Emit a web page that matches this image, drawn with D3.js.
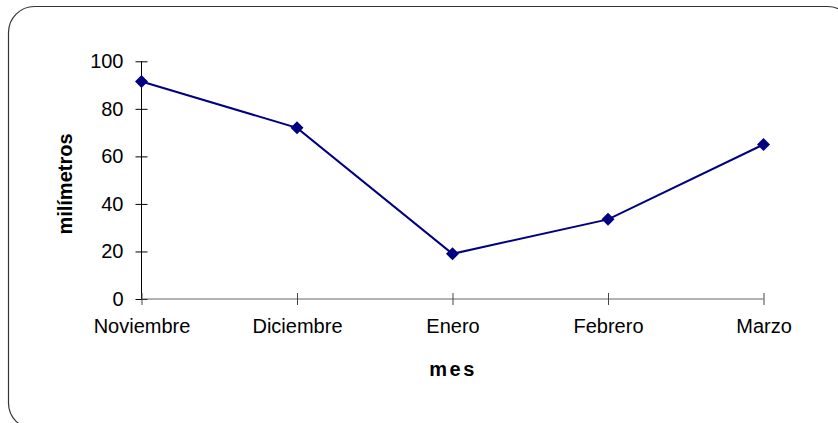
<!DOCTYPE html>
<html><head><meta charset="utf-8">
<script src="https://cdn.jsdelivr.net/npm/d3@7"></script>
<style>body{margin:0;background:#fff;}svg{display:block;font-family:"Liberation Sans",Arial,sans-serif;}</style>
</head><body><svg id="c" width="838" height="423"></svg>
<script>
const categories = ["Noviembre","Diciembre","Enero","Febrero","Marzo"];
const values = [91.5, 72, 19, 33.5, 65];
const yTicks = [0,20,40,60,80,100];
const xTitle = "mes";
const yTitle = "milímetros";

const svg = d3.select("#c");
svg.append("rect").attr("x",8.5).attr("y",6.5).attr("width",845).attr("height",422.5)
  .attr("rx",26).attr("ry",26).attr("fill","none").attr("stroke","#333").attr("stroke-width",1.2);

const x = d3.scalePoint().domain(categories).range([141.5,763.5]);
const y = d3.scaleLinear().domain([0,100]).range([299,61.3]);

// y axis
const ya = svg.append("g").attr("transform","translate(141.5,0)")
  .call(d3.axisLeft(y).tickValues(yTicks).tickSize(6).tickPadding(12));
ya.select(".domain").attr("stroke","#000").attr("d","M0,"+y(100)+"V"+y(0));
ya.selectAll(".tick line").attr("x1",6).attr("x2",-6).attr("stroke","#000");
ya.selectAll("text").attr("font-size",20).attr("fill","#000").attr("font-family","Liberation Sans, Arial, sans-serif");

// x axis
const xa = svg.append("g").attr("transform","translate(0,299)")
  .call(d3.axisBottom(x).tickSize(6).tickPadding(14));
xa.select(".domain").attr("stroke","#666").attr("d","M"+x.range()[0]+",0H"+x.range()[1]);
xa.selectAll(".tick line").attr("y1",-6).attr("y2",6).attr("stroke","#444");
xa.selectAll("text").attr("font-size",20).attr("fill","#000").attr("font-family","Liberation Sans, Arial, sans-serif");

// line
svg.append("path").datum(values)
  .attr("d", d3.line().x((d,i)=>x(categories[i])).y(d=>y(d)))
  .attr("fill","none").attr("stroke","#000080").attr("stroke-width",2);
svg.selectAll(".pt").data(values).enter().append("path")
  .attr("transform",(d,i)=>`translate(${x(categories[i])},${y(d)})`)
  .attr("d","M0,-6.5L6.5,0L0,6.5L-6.5,0Z").attr("fill","#000080");

// titles
svg.append("text").attr("x",453).attr("y",376).attr("text-anchor","middle")
  .attr("font-size",20).attr("font-weight","bold").attr("letter-spacing",2.5).text(xTitle);
svg.append("text").attr("transform","translate(72,184) rotate(-90)").attr("text-anchor","middle")
  .attr("font-size",20).attr("font-weight","bold").text(yTitle);
</script></body></html>
